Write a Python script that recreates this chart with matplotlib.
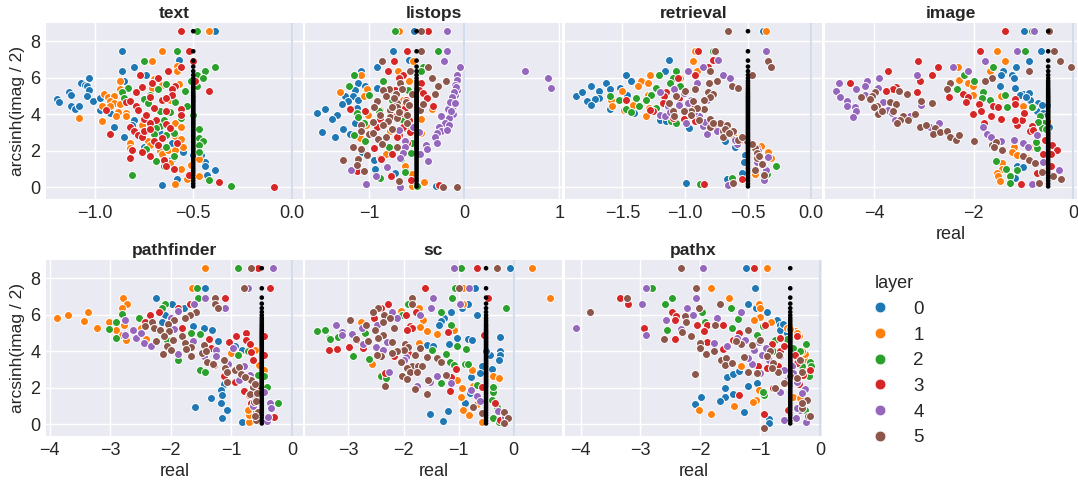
import matplotlib
matplotlib.use('Agg')
import matplotlib.pyplot as plt
from matplotlib.lines import Line2D
import seaborn as sns

sns.set_theme(style='darkgrid')
plt.rcParams['font.family'] = ['Liberation Sans', 'DejaVu Sans']

layer_colors = ['#1f77b4', '#ff7f0e', '#2ca02c', '#d62728', '#9467bd', '#8c564b']
layer_names = ['0', '1', '2', '3', '4', '5']

# black points, same on every panel (real part always -0.5)
zero_real = -0.5
zero_y = [8.55, 7.45, 6.94, 6.61, 6.36, 6.15, 5.97, 5.82, 5.7, 5.58, 5.46, 5.37, 5.27, 5.18, 5.1, 5.02, 4.95,
          4.88, 4.8, 4.73, 4.66, 4.58, 4.5, 4.42, 4.34, 4.26, 4.18, 4.1, 4.02, 3.94, 3.86, 3.78, 3.7, 3.62, 3.54,
          3.46, 3.38, 3.3, 3.22, 3.14, 3.06, 2.98, 2.9, 2.82, 2.74, 2.66, 2.58, 2.5, 2.42, 2.34, 2.26, 2.18, 2.1,
          2.02, 1.92, 1.82, 1.72, 1.62, 1.5, 1.38, 1.26, 1.14, 1.02, 0.9, 0.78, 0.64, 0.5, 0.36, 0.2, 0.05]

# text
text_0 = [(-1.19, 4.84), (-1.18, 4.69), (-1.13, 5.2), (-1.12, 5.04), (-1.12, 4.43), (-1.1, 4.3), (-1.08, 4.47),
          (-1.07, 5.71), (-1.03, 5.97), (-1.05, 5.62), (-1.04, 5.57), (-1.03, 5.35), (-1.04, 4.98), (-1.01, 4.74),
          (-0.97, 4.87), (-0.97, 4.25), (-0.92, 4.07), (-0.9, 3.28), (-0.85, 2.78), (-0.86, 7.45), (-0.86, 6.36),
          (-0.85, 5.84), (-0.8, 6.61), (-0.74, 6.15), (-0.57, 6.96), (-0.8, 3.7), (-0.81, 3.42), (-0.75, 2.23),
          (-0.67, 2.97), (-0.61, 2.45), (-0.55, 1.92), (-0.46, 1.78), (-0.44, 1.41), (-0.44, 1.17), (-0.39, 0.95),
          (-0.43, 0.68), (-0.58, 0.44), (-0.66, 0.11), (-0.39, 8.55), (-0.5, 1.78), (-0.61, 1.54)]
text_1 = [(-0.42, 8.55), (-0.66, 7.45), (-0.71, 6.94), (-0.58, 6.63), (-0.58, 6.36), (-0.87, 5.84), (-0.87, 5.38),
          (-0.7, 5.93), (-0.71, 5.44), (-0.66, 5.62), (-0.57, 5.68), (-0.95, 5.11), (-0.93, 4.95), (-0.9, 5.02),
          (-0.92, 4.71), (-0.9, 4.62), (-0.96, 4.47), (-0.92, 4.43), (-0.87, 4.54), (-0.88, 4.1), (-0.89, 3.92),
          (-0.84, 4.07), (-0.84, 3.88), (-1.08, 3.81), (-0.96, 3.61), (-0.76, 3.42), (-0.73, 2.56), (-0.72, 2.33),
          (-0.82, 2.45), (-0.82, 2.14), (-0.67, 2.01), (-0.66, 1.83), (-0.63, 2.05), (-0.59, 3.52), (-0.56, 3.33),
          (-0.59, 2.82), (-0.56, 2.64), (-0.55, 2.23), (-0.59, 2.05), (-0.62, 1.32), (-0.56, 0.99), (-0.51, 1.23),
          (-0.53, 0.44), (-0.47, 0.64), (-0.59, 0.16), (-0.47, 1.54), (-0.56, 4.07), (-0.62, 4.8)]
text_2 = [(-0.48, 8.55), (-0.58, 7.45), (-0.75, 6.94), (-0.39, 6.61), (-0.44, 6.36), (-0.48, 6.15), (-0.45, 5.97),
          (-0.48, 5.57), (-0.51, 5.84), (-0.64, 5.68), (-0.54, 5.29), (-0.83, 5.46), (-0.86, 5.2), (-0.85, 4.89),
          (-0.75, 4.84), (-0.73, 4.62), (-0.72, 5.07), (-0.68, 5.38), (-0.59, 4.67), (-0.53, 4.47), (-0.67, 4.16),
          (-0.62, 4.12), (-0.56, 3.79), (-0.5, 3.94), (-0.68, 3.33), (-0.67, 3.37), (-0.65, 3.7), (-0.69, 3.24),
          (-0.7, 2.91), (-0.64, 2.88), (-0.6, 3.0), (-0.47, 3.19), (-0.47, 2.69), (-0.45, 2.56), (-0.47, 2.34),
          (-0.47, 1.94), (-0.64, 2.2), (-0.74, 2.09), (-0.6, 1.74), (-0.69, 1.43), (-0.65, 1.19), (-0.81, 0.68),
          (-0.42, 0.38), (-0.31, 0.07)]
text_3 = [(-0.56, 8.55), (-0.52, 7.45), (-0.5, 6.94), (-0.56, 6.61), (-0.63, 6.36), (-0.77, 6.15), (-0.68, 5.97),
          (-0.71, 5.71), (-0.76, 5.48), (-0.79, 5.2), (-0.59, 5.57), (-0.61, 5.38), (-0.61, 5.04), (-0.66, 4.8),
          (-0.64, 4.89), (-0.72, 4.95), (-0.42, 5.29), (-0.49, 5.84), (-0.84, 4.67), (-0.82, 4.74), (-0.79, 4.43),
          (-0.78, 4.25), (-0.56, 4.3), (-0.64, 4.16), (-0.7, 4.34), (-0.94, 4.21), (-0.75, 3.74), (-0.74, 3.97),
          (-0.69, 3.7), (-0.72, 3.55), (-0.64, 3.48), (-0.82, 3.33), (-0.56, 3.97), (-0.8, 3.11), (-0.78, 2.88),
          (-0.76, 2.78), (-0.75, 3.06), (-0.72, 3.19), (-0.62, 3.24), (-0.66, 2.69), (-0.92, 2.93), (-0.7, 2.56),
          (-0.68, 2.33), (-0.58, 2.45), (-0.81, 2.05), (-0.76, 1.92), (-0.72, 1.74), (-0.82, 1.59), (-0.65, 1.47),
          (-0.64, 1.17), (-0.6, 0.99), (-0.52, 0.68), (-0.37, 0.31), (-0.09, 0.0)]

# listops
listops_0 = [(-0.53, 8.55), (-0.75, 7.45), (-0.58, 6.96), (-0.92, 6.61), (-1.08, 6.36), (-1.12, 5.71), (-1.04, 5.57),
             (-0.92, 5.46), (-1.15, 5.35), (-1.25, 5.02), (-1.17, 4.98), (-1.22, 4.71), (-1.28, 4.54), (-1.46, 4.3),
             (-1.55, 4.05), (-1.34, 3.94), (-1.39, 3.74), (-1.27, 3.17), (-1.49, 3.02), (-1.36, 2.77), (-1.2, 2.93),
             (-1.15, 3.55), (-1.13, 4.34), (-0.95, 1.47), (-0.94, 1.03), (-0.73, 0.81), (-0.3, 0.09), (-1.07, 1.96),
             (-1.12, 4.8)]
listops_1 = [(-0.68, 8.55), (-0.54, 6.94), (-0.7, 6.36), (-0.58, 5.82), (-1.09, 6.15), (-1.31, 5.2), (-1.02, 5.38),
             (-1.05, 5.02), (-0.64, 4.8), (-0.65, 4.38), (-1.01, 3.97), (-1.03, 3.42), (-1.1, 2.69), (-0.89, 1.63),
             (-0.82, 1.81), (-0.62, 1.19), (-0.42, 0.29), (-0.55, 0.71), (-0.55, 0.09), (-0.45, 3.74), (-0.34, 4.29),
             (-0.45, 2.97), (-0.89, 4.25), (-0.78, 3.06)]
listops_2 = [(-0.73, 8.55), (-0.27, 7.45), (-0.43, 6.61), (-0.45, 6.36), (-1.16, 6.15), (-1.21, 5.57), (-0.85, 5.82),
             (-1.0, 5.07), (-0.76, 4.8), (-0.95, 4.34), (-0.9, 4.16), (-1.13, 4.07), (-1.12, 3.85), (-1.16, 2.88),
             (-1.04, 2.55), (-0.79, 2.23), (-0.62, 3.24), (-0.64, 3.7), (-0.55, 2.42), (-0.56, 1.87), (-0.66, 1.54),
             (-0.62, 0.86), (-0.89, 0.49), (-0.5, 0.07), (-0.71, 5.35), (-1.05, 3.55), (-0.78, 5.35), (-0.59, 5.35),
             (-0.78, 3.97)]
listops_3 = [(-0.38, 8.55), (-0.6, 7.45), (-0.74, 6.94), (-0.8, 6.36), (-0.64, 6.15), (-0.68, 5.97), (-0.45, 5.71),
             (-0.47, 5.35), (-0.43, 5.16), (-0.39, 4.87), (-0.33, 4.47), (-1.2, 4.3), (-1.04, 4.19), (-0.89, 3.74),
             (-0.92, 3.33), (-0.71, 3.97), (-0.61, 4.8), (-0.62, 4.34), (-0.57, 3.02), (-0.68, 2.88), (-0.71, 2.78),
             (-0.95, 2.14), (-0.76, 1.81), (-0.87, 1.56), (-1.13, 0.9), (-0.77, 0.64), (-0.56, 0.4), (-0.26, 0.13),
             (-0.6, 2.45), (-0.73, 5.35), (-0.66, 4.05), (-0.58, 3.7), (-0.82, 3.55), (-0.75, 3.2), (-0.64, 3.3)]
listops_4 = [(-0.18, 8.55), (-0.18, 7.45), (-0.21, 6.94), (-0.04, 6.61), (-0.07, 6.15), (-0.07, 5.9), (-0.1, 5.62),
             (-0.08, 5.44), (-0.07, 5.31), (-0.1, 5.07), (-0.12, 4.8), (-0.14, 4.52), (-0.12, 4.43), (-0.17, 4.29),
             (-0.12, 4.03), (-0.24, 3.88), (-0.16, 3.79), (-0.2, 3.52), (-0.16, 3.41), (-0.26, 3.33), (-0.24, 3.11),
             (-0.18, 3.15), (-0.28, 2.97), (-0.31, 2.78), (-0.28, 2.45), (0.64, 6.36), (0.88, 5.97), (0.91, 5.46),
             (-0.4, 2.33), (-0.39, 2.09), (-0.46, 1.81), (-0.38, 1.45), (-0.47, 3.02), (-0.62, 2.56), (-0.62, 2.23),
             (-0.64, 1.9), (-0.67, 1.63), (-0.81, 1.14), (-1.19, 0.95), (-0.93, 0.64), (-1.03, 0.2), (-0.67, 0.0),
             (-0.54, 3.33), (-0.78, 4.25), (-0.68, 3.15), (-0.09, 5.5), (-0.11, 5.2), (-0.13, 4.95), (-0.15, 4.7),
             (-0.1, 4.6), (-0.14, 4.2)]
listops_5 = [(-0.45, 8.55), (-0.45, 7.45), (-0.86, 6.94), (-0.38, 6.61), (-0.57, 6.36), (-0.34, 5.97), (-0.19, 5.84),
             (-0.27, 5.57), (-0.31, 5.11), (-0.67, 5.71), (-0.79, 5.38), (-0.85, 5.31), (-0.82, 5.02), (-0.72, 5.11),
             (-0.92, 4.74), (-0.71, 4.62), (-0.61, 4.67), (-0.78, 4.25), (-0.71, 4.4), (-0.46, 4.25), (-0.43, 4.58),
             (-0.6, 3.97), (-0.89, 3.97), (-0.96, 3.6), (-0.78, 3.85), (-0.71, 3.79), (-1.08, 3.42), (-1.09, 3.11),
             (-0.76, 3.19), (-1.0, 2.93), (-0.96, 2.97), (-0.91, 2.67), (-0.82, 2.78), (-0.86, 2.36), (-1.17, 2.23),
             (-1.09, 2.1), (-1.02, 1.78), (-1.27, 1.5), (-1.12, 1.56), (-1.13, 1.23), (-1.05, 0.92), (-0.68, 0.35),
             (-0.22, 0.04), (-0.07, 0.0), (-0.71, 2.23), (-0.76, 4.4), (-0.68, 4.1), (-0.8, 3.62), (-0.74, 4.9),
             (-0.55, 5.1), (-0.58, 4.5), (-0.65, 5.4), (-0.85, 3.4), (-0.6, 3.5), (-0.95, 4.4)]

# retrieval
retrieval_0 = [(-1.87, 5.02), (-1.82, 5.2), (-1.78, 4.74), (-1.75, 5.57), (-1.69, 5.29), (-1.69, 4.89), (-1.72, 4.84),
               (-1.75, 4.49), (-1.63, 5.71), (-1.6, 5.38), (-1.6, 4.3), (-1.52, 5.46), (-1.47, 6.15), (-1.43, 5.84),
               (-1.46, 5.07), (-1.41, 4.07), (-1.16, 6.36), (-1.13, 6.96), (-1.2, 3.66), (-1.15, 3.61), (-0.97, 3.24),
               (-0.68, 2.55), (-0.6, 2.23), (-0.52, 1.78), (-0.53, 1.41), (-0.55, 0.77), (-0.67, 0.48), (-0.99, 0.24),
               (-0.38, 8.55)]
retrieval_1 = [(-0.36, 8.55), (-0.92, 7.45), (-0.94, 6.94), (-0.91, 6.36), (-1.28, 6.15), (-1.35, 5.84), (-1.38, 5.57),
               (-1.3, 5.71), (-1.5, 5.29), (-1.59, 4.8), (-1.58, 4.47), (-1.49, 4.21), (-1.42, 4.52), (-1.31, 3.92),
               (-1.3, 5.07), (-1.29, 4.34), (-0.34, 1.96), (-0.32, 1.59), (-0.44, 0.73), (-0.4, 2.29), (-1.04, 5.97),
               (-1.2, 3.97), (-0.62, 2.88)]
retrieval_2 = [(-0.78, 7.45), (-1.21, 6.15), (-1.07, 6.36), (-1.1, 5.97), (-1.12, 5.71), (-1.04, 5.57), (-1.23, 5.46),
               (-1.27, 5.07), (-1.31, 4.8), (-1.39, 4.87), (-1.53, 4.8), (-1.6, 5.02), (-1.47, 4.29), (-1.43, 4.1),
               (-1.37, 4.47), (-1.23, 4.34), (-1.11, 3.61), (-0.28, 1.19), (-0.35, 0.73), (-0.88, 0.18), (-0.63, 0.49),
               (-1.07, 3.55)]
retrieval_3 = [(-0.9, 7.45), (-0.78, 6.96), (-0.82, 6.61), (-0.92, 6.15), (-1.06, 5.97), (-1.15, 5.2), (-1.17, 4.98),
               (-1.47, 4.8), (-1.26, 4.19), (-1.28, 4.25), (-1.1, 3.79), (-1.01, 3.74), (-0.92, 3.61), (-0.85, 0.18),
               (-0.55, 0.46), (-0.56, 2.6), (-0.43, 2.14), (-1.18, 4.62), (-1.05, 4.9), (-0.95, 4.5), (-0.75, 3.2)]
retrieval_4 = [(-0.36, 7.45), (-0.74, 6.96), (-0.86, 6.61), (-0.98, 6.36), (-0.7, 6.15), (-0.64, 5.97), (-0.91, 5.71),
               (-1.09, 5.38), (-1.2, 5.2), (-1.14, 4.43), (-1.01, 5.16), (-0.95, 4.8), (-0.83, 4.8), (-1.2, 3.97),
               (-1.16, 3.88), (-1.0, 4.25), (-0.99, 3.55), (-0.89, 3.88), (-0.86, 3.37), (-0.83, 2.93), (-0.75, 3.06),
               (-0.59, 2.36), (-0.52, 2.69), (-0.34, 1.65), (-0.36, 0.95), (-0.37, 0.4), (-0.66, 0.13), (-0.43, 1.41),
               (-1.05, 4.5), (-0.98, 4.6), (-1.12, 4.1), (-0.93, 4.1), (-0.84, 3.6), (-0.7, 2.9), (-0.6, 2.6),
               (-0.42, 2.0), (-0.38, 1.3)]
retrieval_5 = [(-0.66, 8.55), (-0.76, 7.45), (-0.34, 6.94), (-0.32, 6.61), (-0.8, 6.36), (-0.47, 6.15), (-0.75, 5.84),
               (-0.81, 5.71), (-0.63, 5.57), (-0.58, 5.46), (-0.92, 5.38), (-1.0, 5.29), (-1.07, 5.02), (-0.82, 5.2),
               (-0.78, 5.11), (-0.8, 4.95), (-0.85, 4.8), (-0.94, 4.74), (-1.13, 4.62), (-0.85, 4.3), (-0.91, 4.34),
               (-0.95, 4.19), (-1.01, 4.16), (-1.1, 4.16), (-1.09, 3.88), (-0.95, 3.94), (-0.89, 3.66), (-0.8, 3.74),
               (-0.8, 3.33), (-0.72, 3.52), (-0.67, 3.42), (-0.7, 3.11), (-0.7, 2.78), (-0.62, 3.09), (-0.51, 2.55),
               (-0.44, 2.14), (-0.43, 1.87), (-0.43, 1.59), (-0.39, 1.26), (-0.37, 0.7), (-0.44, 0.93), (-0.62, 0.22),
               (-0.58, 2.6), (-0.78, 3.55), (-0.68, 3.2), (-0.65, 2.95), (-0.55, 2.75), (-0.47, 2.35), (-0.41, 1.7)]

# image
image_0 = [(-0.99, 8.55), (-0.65, 7.45), (-0.89, 6.94), (-1.14, 6.61), (-1.4, 6.36), (-1.44, 6.15), (-1.22, 6.15),
           (-1.19, 5.97), (-1.46, 5.57), (-1.17, 5.44), (-1.0, 5.11), (-0.88, 5.16), (-1.07, 5.07), (-0.87, 4.8),
           (-0.7, 4.62), (-0.66, 4.34), (-0.53, 4.52), (-0.73, 4.16), (-0.6, 4.07), (-0.48, 3.33), (-1.13, 1.19),
           (-1.01, 1.14), (-1.17, 0.49), (-0.95, 4.95), (-0.8, 4.4), (-0.62, 4.5), (-0.55, 3.9)]
image_1 = [(-1.52, 7.45), (-1.37, 6.94), (-1.68, 6.36), (-2.31, 6.61), (-2.29, 5.9), (-2.11, 5.71), (-2.02, 5.57),
           (-2.02, 5.04), (-1.44, 5.02), (-1.0, 4.47), (-0.53, 3.61), (-1.18, 2.23), (-1.23, 1.91), (-1.13, 1.78),
           (-1.42, 1.32), (-1.42, 1.0), (-1.52, 0.77), (-1.5, 0.62), (-1.47, 0.37), (-0.87, 2.23), (-0.93, 1.59)]
image_2 = [(-0.97, 7.45), (-0.83, 8.55), (-1.62, 6.61), (-2.11, 6.36), (-2.19, 6.15), (-1.99, 5.84), (-2.34, 5.38),
           (-1.82, 5.2), (-1.84, 4.91), (-1.68, 4.8), (-1.37, 5.07), (-1.32, 4.38), (-1.54, 1.43), (-1.34, 0.99),
           (-1.27, 0.64), (-1.27, 0.26), (-0.83, 4.4), (-0.66, 3.88), (-0.58, 3.52), (-0.63, 3.24), (-0.73, 2.14),
           (-1.13, 0.95), (-0.7, 3.6), (-0.55, 3.2), (-0.75, 2.5)]
image_3 = [(-1.36, 8.55), (-1.87, 7.45), (-3.11, 6.94), (-2.72, 6.61), (-3.73, 6.36), (-2.83, 6.15), (-3.08, 5.84),
           (-4.49, 5.71), (-3.56, 5.5), (-3.63, 5.38), (-3.77, 5.29), (-3.13, 5.2), (-2.5, 4.95), (-2.22, 5.11),
           (-2.11, 4.93), (-2.15, 4.67), (-1.89, 4.54), (-1.86, 4.19), (-2.01, 4.01), (-1.6, 4.47), (-1.5, 4.4),
           (-1.17, 4.85), (-1.17, 4.56), (-1.66, 3.88), (-1.45, 3.74), (-1.79, 3.52), (-1.12, 3.41), (-1.03, 3.7),
           (-0.83, 3.37), (-0.87, 3.06), (-0.99, 4.07), (-1.17, 3.7), (-0.42, 2.33), (-0.33, 2.05), (-0.44, 1.83),
           (-0.45, 1.19), (-0.73, 0.81), (-0.63, 0.92), (-1.05, 0.18), (-0.56, 2.6), (-0.6, 1.83), (-0.8, 3.15)]
image_4 = [(-0.79, 8.55), (-1.12, 7.45), (-1.77, 6.94), (-2.42, 6.61), (-2.12, 6.36), (-3.13, 6.15), (-3.9, 5.97),
           (-4.15, 5.84), (-4.71, 5.71), (-4.19, 5.57), (-4.36, 5.38), (-4.77, 5.29), (-4.68, 4.95), (-4.54, 4.74),
           (-4.54, 4.43), (-4.39, 4.38), (-4.36, 4.16), (-4.42, 3.83), (-4.19, 5.07), (-3.92, 5.44), (-4.02, 4.38),
           (-3.82, 4.65), (-3.72, 4.25), (-3.65, 4.07), (-3.58, 3.66), (-3.05, 4.52), (-3.28, 3.88), (-2.69, 3.52),
           (-2.88, 3.33), (-1.81, 3.28), (-1.74, 2.93), (-1.66, 2.78), (-1.44, 2.51), (-1.18, 2.6), (-1.0, 2.42),
           (-0.9, 2.23), (-0.72, 2.84), (-0.83, 0.18), (-0.6, 1.41), (-0.4, 0.68), (-0.29, 0.95)]
image_5 = [(-0.49, 8.55), (-0.38, 7.45), (-0.26, 6.94), (-0.05, 6.61), (-0.89, 6.36), (-1.64, 5.97), (-1.77, 5.84),
           (-2.48, 5.71), (-2.54, 5.38), (-3.34, 5.11), (-3.5, 5.29), (-3.99, 5.2), (-4.05, 5.02), (-4.09, 4.84),
           (-4.27, 4.95), (-3.68, 4.67), (-3.56, 4.54), (-3.62, 4.16), (-3.94, 4.43), (-4.0, 4.38), (-3.92, 4.01),
           (-3.85, 4.16), (-3.06, 4.74), (-2.83, 4.62), (-3.17, 4.01), (-3.42, 3.88), (-3.48, 3.7), (-3.55, 3.55),
           (-3.32, 3.66), (-3.07, 3.33), (-2.96, 3.42), (-2.78, 3.24), (-2.81, 2.93), (-2.68, 3.02), (-2.53, 3.09),
           (-2.48, 2.73), (-2.36, 2.6), (-2.3, 2.84), (-2.0, 2.56), (-1.64, 2.33), (-1.54, 2.47), (-1.59, 2.2),
           (-1.42, 2.05), (-1.0, 1.72), (-0.88, 1.5), (-0.77, 1.32), (-0.68, 0.26), (-0.4, 0.64), (-0.25, 0.44),
           (-0.63, 0.86)]

# pathfinder
pathfinder_0 = [(-1.43, 7.45), (-2.25, 6.94), (-1.98, 6.61), (-1.79, 6.36), (-2.09, 5.99), (-2.14, 5.59), (-1.63, 5.37),
                (-1.45, 5.27), (-1.32, 5.18), (-1.23, 4.54), (-0.95, 4.3), (-0.82, 4.08), (-1.12, 2.2), (-1.18, 1.89),
                (-1.15, 1.61), (-1.34, 1.45), (-1.18, 1.19), (-1.61, 0.97), (-1.08, 0.77), (-1.15, 0.37), (-0.83, 0.15)]
pathfinder_1 = [(-1.43, 8.55), (-1.65, 7.45), (-2.79, 6.94), (-2.72, 6.61), (-2.8, 6.36), (-3.36, 6.15), (-3.69, 5.97),
                (-3.88, 5.82), (-3.44, 5.68), (-3.02, 5.59), (-3.22, 5.27), (-2.91, 5.15), (-2.78, 5.46), (-2.8, 4.91),
                (-2.74, 4.6), (-2.41, 4.69), (-2.5, 5.27), (-0.71, 0.15), (-0.71, 0.51), (-0.46, 2.95), (-0.54, 3.26),
                (-1.01, 3.9), (-0.87, 3.81), (-0.73, 0.79), (-0.43, 2.07), (-0.62, 4.08)]
pathfinder_2 = [(-0.89, 8.55), (-1.57, 7.45), (-1.55, 6.94), (-2.09, 6.61), (-2.14, 6.36), (-2.8, 6.06), (-2.53, 5.82),
                (-2.9, 5.59), (-3.02, 5.2), (-2.91, 4.74), (-2.06, 4.63), (-1.67, 5.0), (-1.52, 4.95), (-1.89, 3.53),
                (-1.52, 2.97), (-1.43, 2.84), (-0.9, 3.81), (-0.73, 3.99), (-0.57, 2.71), (-0.46, 2.66), (-0.42, 2.07),
                (-0.24, 1.15)]
pathfinder_3 = [(-0.57, 8.55), (-0.37, 7.45), (-1.69, 6.61), (-1.1, 6.94), (-1.88, 6.36), (-2.2, 6.15), (-2.35, 5.97),
                (-2.43, 5.59), (-1.81, 5.27), (-0.76, 5.0), (-0.93, 4.85), (-0.76, 4.6), (-0.69, 4.41), (-1.04, 4.49),
                (-1.37, 4.69), (-1.34, 4.18), (-0.68, 3.94), (-0.64, 3.53), (-0.46, 4.82), (-0.46, 3.79), (-1.12, 2.66),
                (-0.95, 2.34), (-0.8, 1.83), (-0.71, 1.61), (-0.68, 1.19), (-0.3, 0.38), (-1.29, 3.26), (-0.57, 2.07),
                (-1.06, 3.35)]
pathfinder_4 = [(-0.31, 8.55), (-0.73, 7.45), (-1.43, 6.94), (-1.62, 6.61), (-1.1, 6.36), (-1.89, 6.19), (-2.0, 5.82),
                (-2.76, 5.7), (-2.62, 5.18), (-2.76, 4.87), (-2.58, 4.74), (-2.49, 5.0), (-2.44, 4.43), (-2.32, 4.3),
                (-1.89, 3.86), (-1.63, 4.54), (-1.26, 4.08), (-0.98, 4.18), (-1.45, 3.72), (-1.26, 3.72), (-0.88, 2.44),
                (-0.79, 3.17), (-0.46, 1.79), (-0.36, 1.15), (-0.35, 0.92), (-0.42, 0.18), (-0.4, 0.42), (-0.6, 0.7),
                (-1.95, 5.2), (-1.05, 3.3), (-0.9, 3.0), (-0.7, 2.7), (-0.62, 1.5), (-0.65, 1.0)]
pathfinder_5 = [(-0.67, 8.55), (-0.79, 7.45), (-1.27, 6.94), (-1.28, 6.61), (-1.23, 6.36), (-1.58, 6.15), (-1.69, 5.97),
                (-1.77, 5.82), (-1.95, 5.7), (-2.04, 5.49), (-2.31, 5.59), (-2.43, 5.37), (-2.28, 5.27), (-2.18, 5.18),
                (-2.03, 5.09), (-2.12, 4.82), (-2.25, 4.54), (-2.06, 4.3), (-1.96, 4.63), (-2.0, 4.08), (-2.13, 3.86),
                (-1.81, 4.82), (-1.77, 4.45), (-1.67, 4.23), (-1.75, 4.12), (-1.66, 3.75), (-1.48, 3.9), (-1.45, 4.32),
                (-1.42, 3.99), (-1.41, 3.39), (-1.31, 3.31), (-1.12, 3.5), (-1.11, 3.08), (-0.95, 2.95), (-0.87, 3.13),
                (-1.08, 2.86), (-1.07, 2.34), (-0.84, 2.75), (-0.71, 2.47), (-0.67, 2.4), (-0.65, 2.07), (-0.69, 1.65),
                (-0.61, 2.22), (-0.58, 1.74), (-0.63, 1.21), (-0.57, 0.7), (-0.59, 0.24), (-0.78, 2.6), (-0.6, 1.3),
                (-0.62, 0.45)]

# sc
sc_0 = [(-0.07, 8.55), (-0.7, 7.45), (-0.82, 6.61), (-0.94, 6.36), (-1.14, 6.15), (-0.67, 5.97), (-1.26, 5.82),
        (-1.31, 5.64), (-1.36, 5.46), (-1.03, 4.73), (-0.82, 4.67), (-0.75, 4.6), (-0.25, 4.8), (-0.24, 3.99),
        (-0.25, 3.81), (-0.27, 3.53), (-0.43, 3.77), (-0.5, 3.99), (-0.39, 3.04), (-0.58, 3.17), (-0.78, 2.58),
        (-1.17, 4.41), (-1.58, 4.36), (-1.46, 4.27), (-0.88, 1.19), (-0.79, 1.74), (-1.51, 0.59), (-1.2, 0.71),
        (-1.29, 0.2), (-0.61, 2.8)]
sc_1 = [(0.33, 8.55), (0.67, 6.94), (-0.91, 7.45), (-0.91, 6.61), (-1.71, 6.36), (-1.64, 5.7), (-2.05, 6.19),
        (-2.78, 5.62), (-1.7, 5.33), (-1.58, 5.09), (-1.4, 4.95), (-1.08, 5.18), (-1.72, 4.45), (-2.57, 3.3),
        (-0.76, 2.99), (-0.37, 2.62), (-0.27, 2.53), (-0.93, 2.01), (-0.73, 2.12), (-0.96, 1.52), (-0.66, 1.1),
        (-0.91, 0.79), (-0.81, 0.51), (-0.58, 0.13), (-1.03, 2.44)]
sc_2 = [(-0.96, 8.55), (-1.06, 7.45), (-1.11, 6.94), (-1.92, 6.61), (-1.31, 6.15), (-0.14, 6.36), (-2.03, 5.97),
        (-1.14, 5.46), (-3.58, 5.11), (-3.42, 5.18), (-3.36, 4.73), (-3.33, 4.67), (-3.19, 4.8), (-2.7, 5.0),
        (-2.91, 3.72), (-2.63, 3.57), (-2.41, 2.62), (-2.31, 2.53), (-1.48, 4.05), (-1.02, 4.27), (-0.86, 4.14),
        (-1.22, 3.86), (-1.16, 3.41), (-1.08, 3.24), (-0.88, 3.31), (-0.82, 3.3), (-1.32, 2.25), (-0.38, 1.79),
        (-0.37, 2.07), (-0.4, 1.34), (-0.31, 0.97), (-0.38, 0.37), (-0.27, 0.15), (-0.67, 2.16)]
sc_3 = [(-0.67, 8.55), (-1.61, 7.45), (-0.47, 6.94), (-2.29, 6.61), (-2.41, 6.36), (-1.77, 6.15), (-2.53, 5.81),
        (-1.95, 6.01), (-1.88, 5.4), (-1.84, 5.27), (-1.94, 5.18), (-1.2, 5.04), (-0.53, 4.87), (-3.35, 4.05),
        (-3.21, 4.12), (-2.99, 4.23), (-2.85, 4.63), (-2.73, 4.18), (-2.49, 3.81), (-2.18, 3.72), (-2.34, 2.8),
        (-1.05, 3.02), (-1.13, 2.58), (-1.16, 1.85), (-0.58, 2.07), (-0.34, 1.15), (-0.25, 0.24), (-1.91, 3.9)]
sc_4 = [(-1.08, 8.55), (-0.81, 7.45), (-1.46, 6.94), (-0.98, 6.61), (-1.5, 6.36), (-2.21, 6.15), (-1.7, 5.97),
        (-2.12, 5.81), (-3.23, 5.46), (-3.12, 5.04), (-3.11, 4.87), (-2.76, 5.27), (-2.94, 4.95), (-2.74, 4.41),
        (-2.5, 4.23), (-2.37, 4.08), (-2.64, 4.63), (-1.95, 3.68), (-2.26, 2.89), (-1.76, 2.11), (-1.52, 2.34),
        (-1.13, 2.25), (-0.77, 1.89), (-0.67, 1.57), (-0.61, 1.28), (-0.28, 0.73), (-0.16, 0.42), (-1.4, 2.66),
        (-2.49, 5.46), (-2.3, 4.5), (-2.0, 3.5), (-1.75, 3.0)]
sc_5 = [(-0.31, 8.55), (-1.0, 7.45), (-1.84, 6.94), (-1.84, 6.61), (-2.47, 6.36), (-2.56, 6.15), (-2.35, 5.97),
        (-2.24, 5.81), (-2.98, 5.7), (-2.37, 5.59), (-2.68, 5.46), (-2.18, 5.27), (-2.52, 5.15), (-2.38, 4.91),
        (-2.86, 4.67), (-2.65, 4.54), (-2.21, 4.49), (-2.47, 4.73), (-1.97, 4.41), (-1.7, 4.18), (-1.91, 4.23),
        (-2.0, 4.08), (-2.12, 3.99), (-2.21, 3.9), (-2.4, 3.75), (-2.49, 3.81), (-1.79, 3.81), (-2.05, 3.39),
        (-1.84, 3.2), (-1.73, 3.17), (-1.67, 3.2), (-1.94, 3.08), (-1.89, 2.84), (-2.02, 2.62), (-1.94, 2.47),
        (-1.76, 2.86), (-1.58, 3.66), (-1.4, 3.63), (-1.32, 3.44), (-1.55, 2.4), (-1.23, 2.71), (-2.34, 2.09),
        (-1.8, 1.92), (-1.58, 1.67), (-0.74, 0.93), (-0.58, 0.64), (-0.17, 0.7), (-0.1, 0.37), (-0.18, 0.05)]

# pathx
pathx_0 = [(-1.24, 8.55), (-1.09, 7.45), (-1.21, 6.61), (-1.08, 6.36), (-0.89, 6.15), (-0.72, 5.7), (-0.67, 5.46),
           (-0.6, 5.18), (-0.67, 5.18), (-1.56, 2.6), (-1.45, 2.73), (-1.35, 2.93), (-1.59, 2.01), (-1.99, 1.52),
           (-1.59, 1.52), (-1.67, 1.28), (-1.46, 1.68), (-2.09, 1.14), (-1.28, 0.7), (-0.85, 0.29), (-0.85, 0.05),
           (-1.2, 2.12), (-1.06, 2.25), (-0.62, 5.5), (-0.55, 5.0)]
pathx_1 = [(-0.89, 8.55), (-1.83, 7.45), (-1.53, 6.94), (-1.02, 6.61), (-1.0, 6.36), (-1.0, 5.88), (-1.1, 5.7),
           (-0.82, 5.59), (-0.56, 5.27), (-0.42, 5.09), (-0.36, 4.82), (-0.25, 3.53), (-0.26, 3.86), (-0.19, 2.66),
           (-1.32, 3.17), (-1.02, 1.89), (-1.08, 1.34), (-1.13, 1.21), (-1.44, 1.01), (-2.02, 0.81), (-1.82, 0.59),
           (-0.45, 1.52), (-0.33, 1.43), (-0.5, 5.2), (-0.38, 5.0), (-0.3, 4.0), (-0.27, 3.0), (-0.22, 2.8)]
pathx_2 = [(-2.8, 7.45), (-2.48, 6.94), (-2.59, 6.61), (-1.98, 6.15), (-1.49, 6.36), (-1.38, 5.79), (-0.95, 5.37),
           (-2.56, 5.18), (-1.92, 5.59), (-1.48, 5.27), (-1.06, 4.91), (-0.75, 4.63), (-0.56, 4.69), (-0.24, 4.41),
           (-0.33, 4.03), (-0.17, 3.39), (-0.16, 3.2), (-0.18, 2.66), (-0.78, 3.99), (-0.93, 1.61), (-0.25, 0.79),
           (-0.95, 1.79), (-0.45, 4.2), (-0.3, 3.2)]
pathx_3 = [(-1.11, 8.55), (-3.34, 6.94), (-3.21, 6.61), (-2.47, 6.15), (-2.4, 5.95), (-2.42, 5.71), (-2.94, 5.29),
           (-2.42, 4.69), (-2.05, 5.46), (-1.89, 5.42), (-1.94, 5.13), (-1.62, 5.42), (-1.35, 5.0), (-0.92, 5.46),
           (-1.45, 4.63), (-1.56, 4.27), (-1.63, 4.12), (-1.89, 4.51), (-1.35, 1.58), (-0.94, 0.57), (-0.67, 4.73),
           (-0.39, 4.82), (-0.67, 3.99), (-0.89, 3.08), (-1.03, 3.17), (-0.17, 2.95), (-0.28, 2.71), (-0.78, 1.98),
           (-0.53, 0.79), (-0.38, 3.35), (-0.8, 4.4), (-0.6, 4.3), (-0.42, 3.8), (-0.7, 3.2), (-0.35, 2.2)]
pathx_4 = [(-1.96, 8.55), (-2.9, 7.45), (-2.07, 6.94), (-2.97, 6.61), (-2.22, 6.36), (-2.13, 5.99), (-2.57, 5.7),
           (-4.07, 5.29), (-2.33, 5.22), (-2.9, 4.87), (-1.77, 5.46), (-1.73, 5.82), (-1.33, 6.17), (-1.78, 4.43),
           (-1.56, 4.27), (-1.39, 4.73), (-1.25, 4.6), (-1.02, 4.49), (-1.1, 4.08), (-1.14, 3.32), (-0.97, 3.81),
           (-0.67, 3.72), (-0.47, 3.17), (-0.38, 2.34), (-0.25, 1.94), (-0.67, 1.79), (-0.6, 0.22), (-0.4, 0.33),
           (-0.24, 0.11), (-0.33, 0.79), (-1.0, 2.8), (-1.2, 3.63), (-0.9, 4.2), (-0.85, 3.5), (-0.6, 3.0),
           (-0.55, 2.4), (-0.45, 2.8), (-0.3, 1.7), (-0.38, 0.9)]
pathx_5 = [(-2.32, 8.55), (-2.07, 7.45), (-3.22, 6.94), (-1.68, 6.61), (-2.02, 6.36), (-3.84, 6.15), (-2.26, 5.95),
           (-2.24, 5.6), (-1.75, 5.46), (-2.61, 4.69), (-2.31, 5.04), (-2.16, 4.82), (-2.01, 4.45), (-2.01, 4.18),
           (-1.91, 3.85), (-1.78, 3.99), (-2.09, 2.73), (-1.66, 3.53), (-1.58, 3.63), (-1.59, 3.26), (-1.47, 3.35),
           (-1.28, 3.68), (-1.21, 5.18), (-1.32, 4.41), (-1.4, 4.54), (-1.14, 4.36), (-1.0, 4.63), (-0.84, 3.99),
           (-0.88, 3.75), (-0.69, 3.81), (-0.78, 3.35), (-1.2, 2.88), (-0.7, 2.89), (-0.81, 3.08), (-1.06, 2.8),
           (-0.61, 2.25), (-0.75, 1.98), (-0.33, 3.53), (-0.5, 2.62), (-0.39, 2.53), (-0.31, 2.89), (-0.94, -0.18),
           (-0.22, 1.34), (-0.3, 0.88), (-0.21, 0.48), (-0.17, 0.46), (-0.31, 1.15)]

W, H = 1078, 483
# title, layers, xlim, xticks, tick format, left px, top px
panels = [
    ('text', [text_0, text_1, text_2, text_3], (-1.246, 0.056), [-1.0, -0.5, 0.0], '%.1f', 46, 23),
    ('listops', [listops_0, listops_1, listops_2, listops_3, listops_4, listops_5], (-1.674, 1.03), [-1, 0, 1], '%d', 305, 23),
    ('retrieval', [retrieval_0, retrieval_1, retrieval_2, retrieval_3, retrieval_4, retrieval_5], (-1.958, 0.09), [-1.5, -1.0, -0.5, 0.0], '%.1f', 565, 23),
    ('image', [image_0, image_1, image_2, image_3, image_4, image_5], (-4.99, 0.08), [-4, -2, 0], '%d', 825, 23),
    ('pathfinder', [pathfinder_0, pathfinder_1, pathfinder_2, pathfinder_3, pathfinder_4, pathfinder_5], (-4.06, 0.18), [-4, -3, -2, -1, 0], '%d', 46, 260),
    ('sc', [sc_0, sc_1, sc_2, sc_3, sc_4, sc_5], (-3.79, 0.88), [-3, -2, -1, 0], '%d', 305, 260),
    ('pathx', [pathx_0, pathx_1, pathx_2, pathx_3, pathx_4, pathx_5], (-4.26, 0.03), [-4, -3, -2, -1, 0], '%d', 565, 260),
]

fig = plt.figure(figsize=(W / 100, H / 100), dpi=100)
tick_col = '#262626'

for i, (title, layers, xlim, xticks, fmt, left, top) in enumerate(panels):
    w = 252 if title == 'image' else 257
    ax = fig.add_axes([left / W, 1 - (top + 176) / H, w / W, 176 / H])
    ax.axvline(0, color='#d3dcea', lw=1.5, zorder=1)
    for n, pts in enumerate(layers):
        ax.scatter([p[0] for p in pts], [p[1] for p in pts], s=33, c=layer_colors[n],
                   edgecolors='white', linewidths=0.7, zorder=2 + n * 0.1)
    ax.scatter([zero_real] * len(zero_y), zero_y, s=11, c='black', edgecolors='none', zorder=3)
    ax.set_xlim(xlim)
    ax.set_ylim(-0.64, 9.0)
    ax.set_xticks(xticks)
    ax.set_xticklabels([(fmt % t).replace('-', '\u2212') for t in xticks])
    ax.set_yticks([0, 2, 4, 6, 8])
    ax.tick_params(axis='both', labelsize=13, pad=4, colors=tick_col, length=0)
    ax.set_title(title, fontsize=12.5, fontweight='bold', color=tick_col, pad=3.5)
    if left == 46:
        ax.set_ylabel('arcsinh(imag / 2)', fontsize=12.5, color=tick_col, labelpad=3.5)
    else:
        ax.tick_params(axis='y', labelleft=False)
    if title in ('image', 'pathfinder', 'sc', 'pathx'):
        ax.set_xlabel('real', fontsize=13, color=tick_col, labelpad=3.5)
    for s in ax.spines.values():
        s.set_visible(False)

handles = [Line2D([], [], ls='', marker='o', ms=7.7, mfc=c, mec='white', mew=0.5) for c in layer_colors]
leg = fig.legend(handles, layer_names, title='layer', loc='upper left', bbox_to_anchor=(875 / W, 1 - 275 / H),
                 frameon=False, fontsize=13.5, title_fontsize=13, labelspacing=0.46, handlelength=0.55,
                 handletextpad=1.5, borderpad=0, borderaxespad=0)
leg.get_title().set_ha('left')
leg._legend_box.align = 'left'
for t in leg.get_texts():
    t.set_color(tick_col)
leg.get_title().set_color(tick_col)

fig.savefig('out.png', dpi=100)
